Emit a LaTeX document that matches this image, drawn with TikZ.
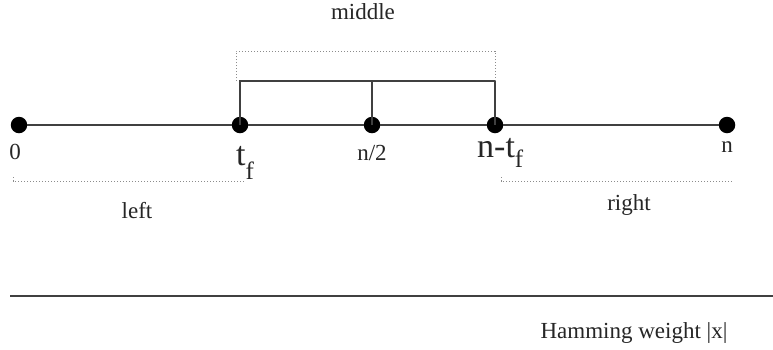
\documentclass[tikz,border=0pt]{standalone}
\usepackage{fontspec}
\setmainfont{Liberation Serif}
\usetikzlibrary{calc}

\newcommand{\subf}[1]{\raisebox{-#1}{\fontsize{25}{28}\selectfont f}}

\begin{document}
\begin{tikzpicture}[x=1pt,y=-1pt,
  dot/.style={circle,fill=black,inner sep=0pt,minimum size=16.5pt},
  lab/.style={inner sep=0pt,anchor=base,text=black!85,font=\fontsize{23}{26}\selectfont},
  biglab/.style={inner sep=0pt,anchor=base west,text=black!85,font=\fontsize{34}{38}\selectfont},
  axis/.style={line width=1.1pt,black!75},
  zone/.style={line width=0.9pt,black!45,dash pattern=on 1.2pt off 1.8pt}]
\useasboundingbox (0,0) rectangle (773,349);
% points on the weight axis
\foreach \nm/\xx in {pz/19,ptf/240,ph/372,pntf/495,pn/727}
  {\node[dot] (\nm) at (\xx,125) {};}
\draw[axis] (pz) -- (ptf) -- (ph) -- (pntf) -- (pn);
% bracket over the middle part
\coordinate (ba) at (240,81); \coordinate (bb) at (372,81); \coordinate (bc) at (495,81);
\draw[axis] (ptf.center) -- (ba) -- (bc) -- (pntf.center);
\draw[axis] (ph.center) -- (bb);
\draw[zone] (236,81) -- (236,51) -- (495,51) -- (495,81);
% dotted zones below
\draw[zone] (13,177) -- (13,181) -- (244,181);
\draw[zone] (501,177) -- (501,181) -- (733,181);
% labels
\node[lab] (lz) at (15,159) {0};
\node[biglab] (ltf) at (236,165) {t\subf{14pt}};
\node[lab] (lh) at (372,160) {n/2};
\node[biglab] (lntf) at (477,157) {n-t\subf{10pt}};
\node[lab] (ln) at (727,152) {n};
\node[lab] (lmid) at (363,19) {middle};
\node[lab] (lleft) at (137,218) {left};
\node[lab] (lright) at (629,210) {right};
% lower axis
\coordinate (la) at (10,296); \coordinate (lb) at (773,296);
\draw[axis] (la) -- (lb);
\node[lab] (lhw) at (634,338) {Hamming weight |x|};
\end{tikzpicture}
\end{document}
